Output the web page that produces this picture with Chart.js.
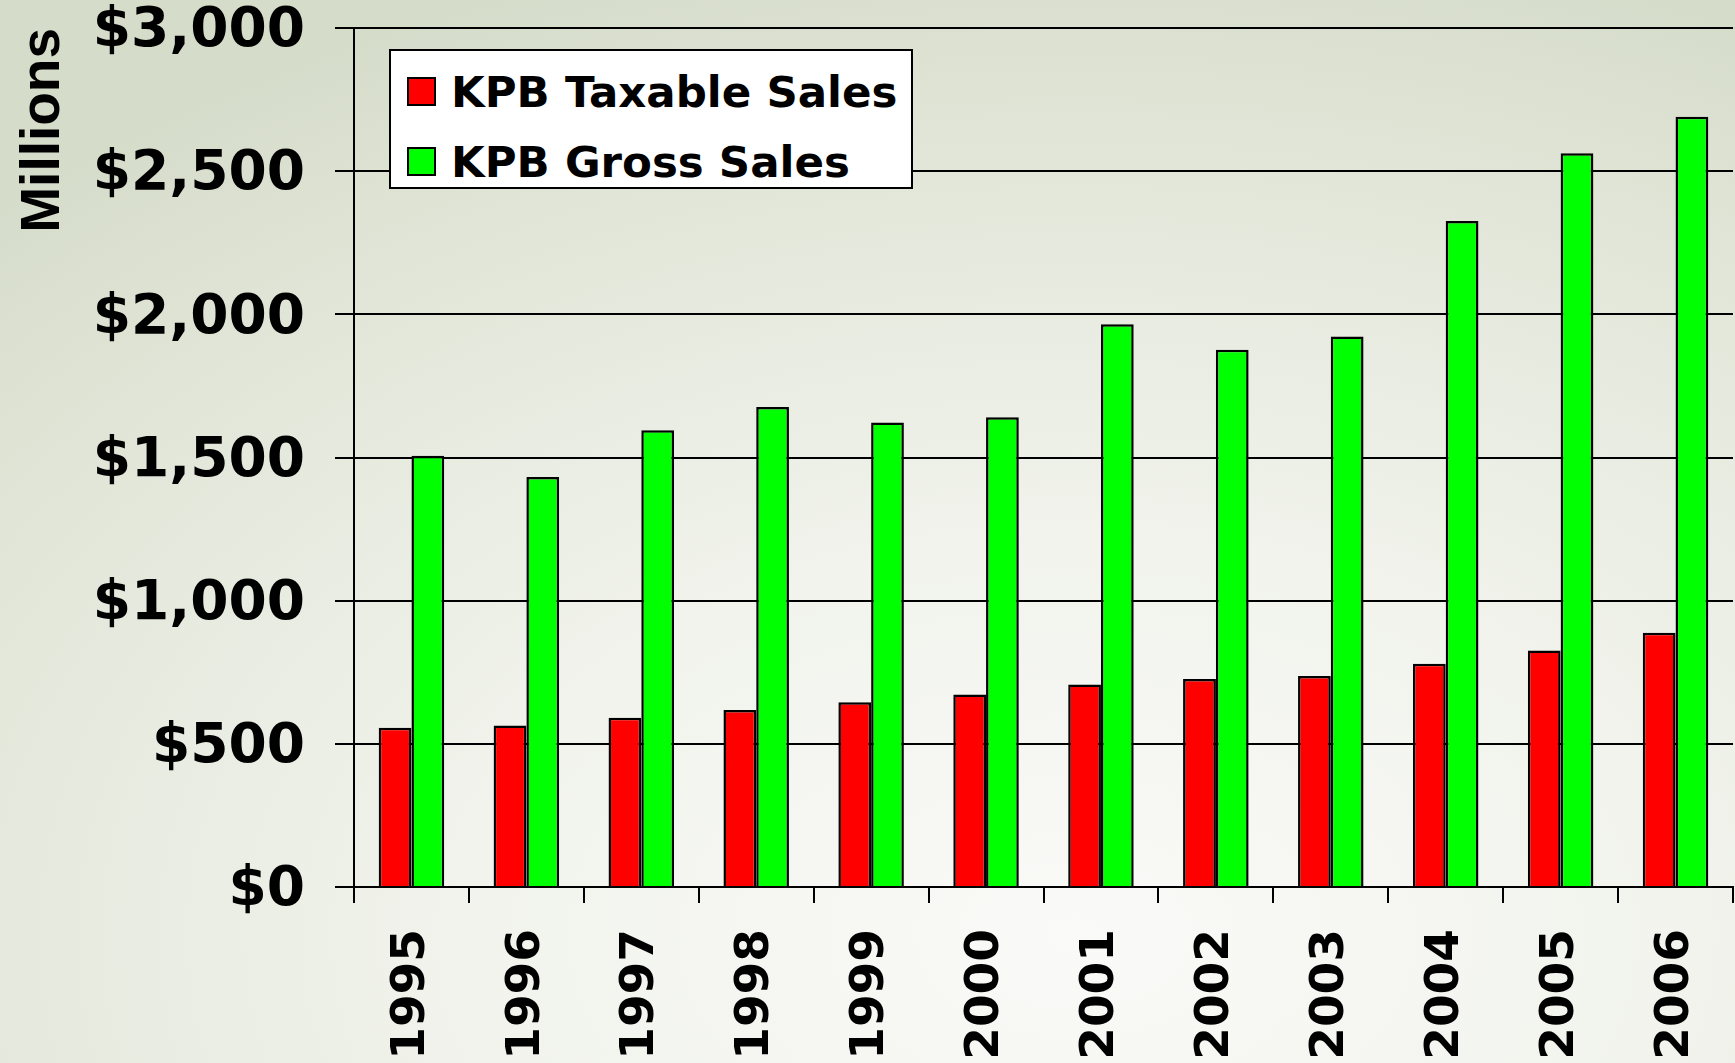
<!DOCTYPE html>
<html>
<head>
<meta charset="utf-8">
<script src="https://cdn.jsdelivr.net/npm/chart.js@4.4.0/dist/chart.umd.min.js"></script>
<style>
html, body { margin: 0; padding: 0; }
body {
    width: 1735px; height: 1063px; overflow: hidden; position: relative;
    background: radial-gradient(ellipse 90% 95% at 62% 88%, #fafaf8 0%, #f1f3ec 40%, #e3e7da 75%, #d6dcca 100%);
}
#salesChart { position: absolute; left: 0; top: 0; }
#legend {
    position: absolute; left: 389px; top: 49px; width: 520px; height: 136px;
    background: #fff; border: 2px solid #000; z-index: 2;
    font-family: "DejaVu Sans", sans-serif; font-weight: bold; font-size: 43.5px; color: #000;
}
.item { position: absolute; left: 16px; height: 50px; line-height: 50px; white-space: nowrap; }
.item span.box {
    display: inline-block; width: 25px; height: 25px; border: 2px solid #000;
    vertical-align: middle; margin-right: 15px; position: relative; top: -4px;
}
</style>
</head>
<body>
<canvas id="salesChart" width="1735" height="1063"></canvas>
<div id="legend"></div>
<script>
const years = ['1995', '1996', '1997', '1998', '1999', '2000', '2001', '2002', '2003', '2004', '2005', '2006'];
const taxableSales = [556, 564, 591, 618, 645, 672, 707, 726, 737, 780, 826, 888];
const grossSales = [1506, 1432, 1595, 1676, 1622, 1641, 1965, 1876, 1923, 2326, 2563, 2690];
const yTicks = [0, 500, 1000, 1500, 2000, 2500, 3000];

const seriesNames = ['KPB Taxable Sales', 'KPB Gross Sales'];
const seriesColors = ['#ff0000', '#00ff00'];

let ctx = document.getElementById('salesChart').getContext('2d');
let salesChart = new Chart(ctx, {
    type: 'bar',
    data: {
        labels: years,
        datasets: [{
            label: seriesNames[0],
            data: taxableSales,
            backgroundColor: seriesColors[0],
            borderColor: '#000',
            borderWidth: 2.5
        }, {
            label: seriesNames[1],
            data: grossSales,
            backgroundColor: seriesColors[1],
            borderColor: '#000',
            borderWidth: 2.5
        }]
    },
    options: {
        responsive: false,
        animation: false,
        layout: { padding: { top: 28, right: 2, left: 0, bottom: 0 } },
        datasets: { bar: { categoryPercentage: 0.57, barPercentage: 1 } },
        plugins: {
            legend: { display: false },
            tooltip: { enabled: false }
        },
        scales: {
            x: {
                grid: { offset: true, drawOnChartArea: false, color: '#000', lineWidth: 2, tickLength: 16 },
                border: { color: '#000', width: 2 },
                ticks: {
                    color: '#000', minRotation: 90, maxRotation: 90, padding: 26, autoSkip: false,
                    font: { family: 'DejaVu Sans', weight: 'bold', size: 47, lineHeight: 1 }
                },
                afterFit: scale => {
                    scale.height = 176;
                    scale.paddingLeft = 0;
                    scale.paddingRight = 0;
                }
            },
            y: {
                min: 0,
                max: 3000,
                afterBuildTicks: axis => { axis.ticks = yTicks.map(v => ({ value: v })); },
                grid: { color: '#000', lineWidth: 2, tickLength: 19 },
                border: { color: '#000', width: 2 },
                ticks: {
                    color: '#000', padding: 30, labelOffset: 4,
                    font: { family: 'DejaVu Sans', weight: 'bold', size: 55, lineHeight: 1 },
                    callback: v => '$' + v.toLocaleString('en-US')
                },
                title: {
                    display: true, text: 'Millions', align: 'end', color: '#000',
                    padding: { top: 11, bottom: 0 },
                    font: { family: 'Liberation Sans', weight: 'bold', size: 55 }
                },
                afterFit: scale => {
                    scale.width = 354;
                    scale.paddingTop = 0;
                    scale.paddingBottom = 0;
                }
            }
        }
    }
});

// legend drawn as html box inside the plot
let legend = document.getElementById('legend');
seriesNames.forEach((name, i) => {
    let item = document.createElement('div');
    item.className = 'item';
    item.style.top = (16 + i * 70) + 'px';
    item.innerHTML = '<span class="box" style="background:' + seriesColors[i] + '"></span>' + name;
    legend.appendChild(item);
});
</script>
</body>
</html>
